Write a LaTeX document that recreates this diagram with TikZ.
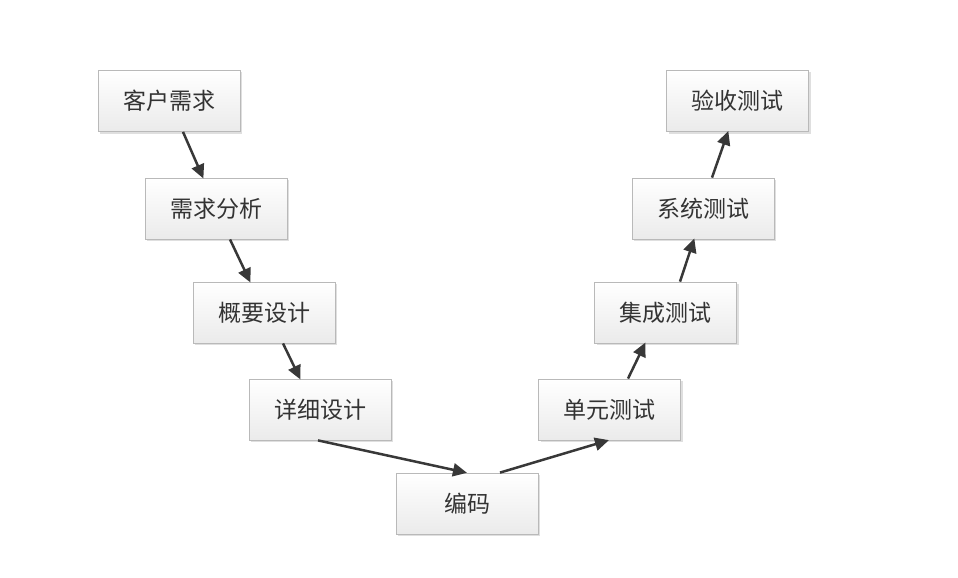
\documentclass[tikz,border=0pt]{standalone}
\usepackage{fontspec}
\setmainfont{Noto Sans CJK SC}
\usetikzlibrary{arrows.meta,shadows}
\begin{document}
\begin{tikzpicture}[x=1pt,y=-1pt,
  stage/.style={draw=gray!55, line width=0.8pt, top color=white, bottom color=gray!16,
    minimum width=142pt, minimum height=61pt, inner sep=0pt,
    font=\fontsize{23pt}{26pt}\selectfont, text=black!80,
    drop shadow={shadow xshift=2pt, shadow yshift=-2pt, opacity=0.25, fill=gray}},
  flow/.style={draw=black!78, line width=2.5pt, -{Triangle[length=14pt,width=13pt]}, shorten >=-1pt}]
\useasboundingbox (0,0) rectangle (958,578);
\node[stage] (a) at (169,101) {客户需求};
\node[stage] (b) at (216,208.5) {需求分析};
\node[stage] (c) at (264,312.5) {概要设计};
\node[stage] (d) at (320,409.5) {详细设计};
\node[stage] (e) at (467,503.5) {编码};
\node[stage] (f) at (609.5,409.5) {单元测试};
\node[stage] (g) at (665.5,312.5) {集成测试};
\node[stage] (h) at (703,208.5) {系统测试};
\node[stage] (i) at (737.5,101) {验收测试};
\draw[flow] ([xshift=14pt]a.south) -- ([xshift=-13pt]b.north);
\draw[flow] ([xshift=14pt]b.south) -- ([xshift=-14pt]c.north);
\draw[flow] ([xshift=19pt]c.south) -- ([xshift=-20pt]d.north);
\draw[flow] ([xshift=-2pt]d.south) -- ([xshift=-1pt]e.north);
\draw[flow] ([xshift=33pt]e.north) -- ([xshift=-1.5pt]f.south);
\draw[flow] ([xshift=18.5pt]f.north) -- ([xshift=-20.5pt]g.south);
\draw[flow] ([xshift=14.5pt]g.north) -- ([xshift=-9pt]h.south);
\draw[flow] ([xshift=9pt]h.north) -- ([xshift=-9.5pt]i.south);
\end{tikzpicture}
\end{document}
